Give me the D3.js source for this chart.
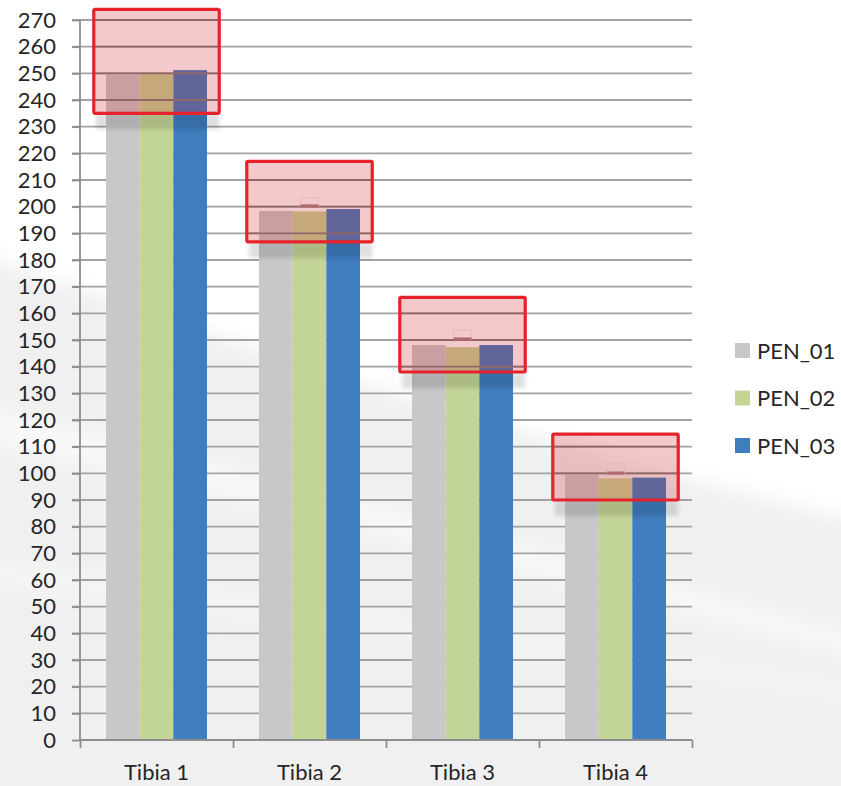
<!DOCTYPE html>
<html><head><meta charset="utf-8">
<script src="https://cdn.jsdelivr.net/npm/d3@7/dist/d3.min.js"></script>
<style>body{margin:0;background:#fff}svg{display:block}text{font-family:Lato,"Open Sans",sans-serif;fill:#262626}</style>
</head><body><svg id="c" width="841" height="786"></svg>
<script>
const categories = ["Tibia 1","Tibia 2","Tibia 3","Tibia 4"];
const seriesNames = ["PEN_01","PEN_02","PEN_03"];
const pen01 = [249.5, 198.4, 148.1, 99.4];
const pen02 = [250.3, 198.2, 147.3, 98.1];
const pen03 = [251.2, 199.1, 148.1, 98.4];
const colors = ["#c8c8ca","#c3d596","#3f7dbf"];
const yTicks = d3.range(0, 271, 10);
// highlighted ranges (red boxes), value units
const boxTop = [274, 217, 166, 114.7];
const boxBottom = [235, 186.8, 138, 90];
// small marker above PEN_02 bars
const markVal = [null, 200.3, 150.4, 100.1];
const markCap = [null, 203.4, 153.7, 103.7];

const svg = d3.select("#c");
const W = 841, H = 786;
const mLeft = 80, mRight = 692, mTop = 20, mBottom = 740;

const defs = svg.append("defs");
const bgBlur = defs.append("filter").attr("id","bgblur").attr("x","-10%").attr("y","-10%").attr("width","120%").attr("height","120%");
bgBlur.append("feGaussianBlur").attr("stdDeviation", 10);
const f = defs.append("filter").attr("id","blur").attr("x","-20%").attr("y","-20%").attr("width","140%").attr("height","160%");
f.append("feGaussianBlur").attr("stdDeviation", 2);

// background
const bg = svg.append("g");
bg.append("rect").attr("width", W).attr("height", H).attr("fill", "#ffffff");
bg.append("path").attr("d","M-30,250 C250,350 560,450 871,525 L871,816 L-30,816 Z").attr("fill","#f0f0f0").attr("filter","url(#bgblur)");
bg.append("path").attr("d","M-30,405 C250,470 560,555 871,640 L871,660 C560,580 250,495 -30,440 Z").attr("fill","#f9f9f9").attr("filter","url(#bgblur)");
bg.append("path").attr("d","M-30,560 C250,600 560,640 871,690 L871,700 C560,652 250,615 -30,580 Z").attr("fill","#f6f6f6").attr("filter","url(#bgblur)");

const y = d3.scaleLinear().domain([0, 270]).range([mBottom, mTop]);
const x0 = d3.scaleBand().domain(categories).range([mLeft, mRight]).padding(0);
const bw = x0.bandwidth();
const x1 = d3.scaleBand().domain(seriesNames).range([bw*0.17, bw*0.83]).padding(0);

// gridlines
const grid = svg.append("g");
grid.selectAll("line").data(yTicks.filter(d => d > 0)).join("line")
  .attr("x1", mLeft - 8).attr("x2", mRight)
  .attr("y1", d => y(d)).attr("y2", d => y(d))
  .attr("stroke", "#a3a3a3").attr("stroke-width", 1.8);

const data = categories.map((c, i) => ({cat: c, vals: [pen01[i], pen02[i], pen03[i]]}));

// bars
const groups = svg.append("g").selectAll("g").data(data).join("g")
  .attr("transform", d => `translate(${x0(d.cat)},0)`);
groups.selectAll("rect").data(d => d.vals.map((v, j) => ({s: seriesNames[j], v, j}))).join("rect")
  .attr("x", d => x1(d.s)).attr("width", x1.bandwidth())
  .attr("y", d => y(d.v)).attr("height", d => y(0) - y(d.v))
  .attr("fill", d => colors[d.j]);

// boxes
const boxW = bw * 0.82;
const boxes = svg.append("g");
categories.forEach((c, i) => {
  const cx = x0(c) + bw/2;
  const bx = cx - boxW/2, by = y(boxTop[i]), bh = y(boxBottom[i]) - y(boxTop[i]);
  boxes.append("rect").attr("x", bx + 2).attr("y", by + bh).attr("width", boxW - 2).attr("height", 16)
    .attr("fill", "#000").attr("opacity", 0.12).attr("filter", "url(#blur)");
  const clipId = "clip" + i;
  defs.append("clipPath").attr("id", clipId).append("rect")
    .attr("x", bx).attr("y", by).attr("width", boxW).attr("height", bh);
  const cg = boxes.append("g").attr("clip-path", `url(#${clipId})`);
  cg.selectAll("line")
    .data(yTicks.filter(d => d > 0)).join("line")
    .attr("x1", bx).attr("x2", bx + boxW)
    .attr("y1", d => y(d)).attr("y2", d => y(d))
    .attr("stroke", "#7e7e7e").attr("stroke-width", 1.8);
  if (markVal[i] != null) {
    const mx = x0(c) + x1("PEN_02") + x1.bandwidth()/2;
    boxes.append("rect").attr("x", mx - 9).attr("y", y(markCap[i])).attr("width", 18)
      .attr("height", y(markVal[i]) - y(markCap[i])).attr("fill", "none")
      .attr("stroke", "#fbeaea").attr("stroke-width", 1.2);
    boxes.append("rect").attr("x", mx - 9).attr("y", y(markVal[i]) - 1.5).attr("width", 18)
      .attr("height", 3).attr("fill", "#a88383");
  }
  boxes.append("rect").attr("x", bx).attr("y", by).attr("width", boxW).attr("height", bh)
    .attr("fill", "rgb(205,30,38)").attr("fill-opacity", 0.24)
    .attr("stroke", "#e8222a").attr("stroke-width", 3.2).attr("rx", 1.5);
});

// axes
const yAxis = svg.append("g").attr("transform", `translate(${mLeft},0)`)
  .call(d3.axisLeft(y).tickValues(yTicks).tickSize(8).tickPadding(16));
yAxis.select(".domain").attr("stroke", "#8e8e8e").attr("stroke-width", 1.8).attr("d", `M0,${mTop}V${mBottom}`);
yAxis.selectAll(".tick line").attr("stroke", "#8e8e8e").attr("stroke-width", 1.8);
yAxis.selectAll(".tick text").attr("font-size", 22).attr("font-family", "Lato").attr("fill", "#262626");

const xAxisScale = d3.scalePoint().domain(d3.range(categories.length + 1)).range([mLeft, mRight]);
const xAxis = svg.append("g").attr("transform", `translate(0,${mBottom})`)
  .call(d3.axisBottom(xAxisScale).tickSize(8).tickFormat(""));
xAxis.select(".domain").attr("stroke", "#8e8e8e").attr("stroke-width", 1.8).attr("d", `M${mLeft},0H${mRight}`);
xAxis.selectAll(".tick line").attr("stroke", "#8e8e8e").attr("stroke-width", 1.8);

svg.append("g").selectAll("text").data(categories).join("text")
  .attr("x", d => x0(d) + bw/2).attr("y", 780).attr("text-anchor", "middle")
  .attr("font-size", 22).text(d => d);

// legend
const lg = svg.append("g").selectAll("g").data(seriesNames).join("g")
  .attr("transform", (d, i) => `translate(735,${343 + i*47.5})`);
lg.append("rect").attr("width", 15).attr("height", 15).attr("fill", (d, i) => colors[i]);
lg.append("text").attr("x", 22).attr("y", 15.5).attr("font-size", 22).text(d => d);
</script></body></html>
